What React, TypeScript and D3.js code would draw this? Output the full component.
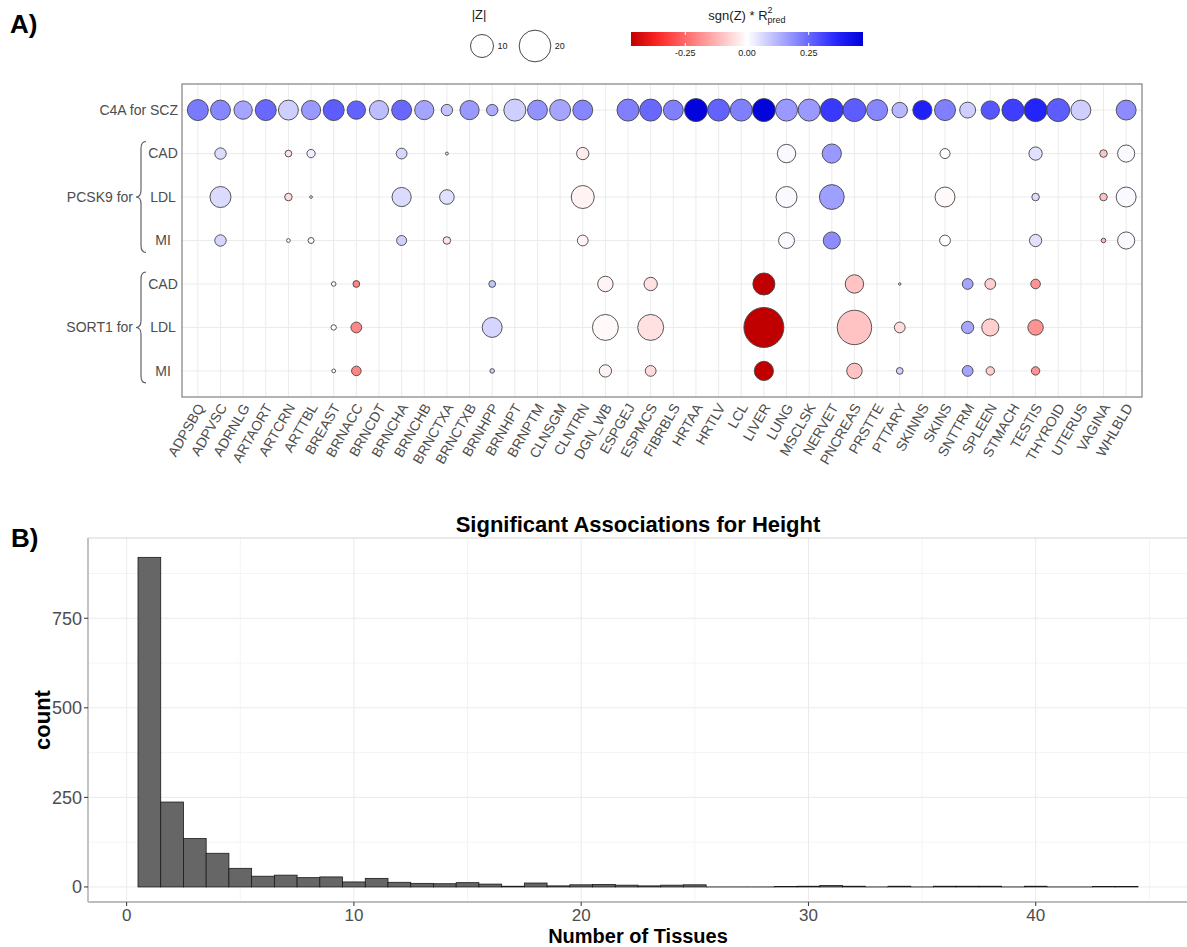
import React from 'react';
import * as d3 from 'd3';

const tissues = [
  'ADPSBQ', 'ADPVSC', 'ADRNLG', 'ARTAORT', 'ARTCRN', 'ARTTBL', 'BREAST', 'BRNACC', 'BRNCDT',
  'BRNCHA', 'BRNCHB', 'BRNCTXA', 'BRNCTXB', 'BRNHPP', 'BRNHPT', 'BRNPTM', 'CLNSGM', 'CLNTRN',
  'DGN_WB', 'ESPGEJ', 'ESPMCS', 'FIBRBLS', 'HRTAA', 'HRTLV', 'LCL', 'LIVER', 'LUNG', 'MSCLSK',
  'NERVET', 'PNCREAS', 'PRSTTE', 'PTTARY', 'SKINNS', 'SKINS', 'SNTTRM', 'SPLEEN', 'STMACH',
  'TESTIS', 'THYROID', 'UTERUS', 'VAGINA', 'WHLBLD',
];

const rowKeys = ['C4A_SCZ', 'PCSK9_CAD', 'PCSK9_LDL', 'PCSK9_MI', 'SORT1_CAD', 'SORT1_LDL', 'SORT1_MI'];
const rowTicks = ['C4A for SCZ', 'CAD', 'LDL', 'MI', 'CAD', 'LDL', 'MI'];
const groupLabels = [
  { label: 'PCSK9 for', from: 'PCSK9_CAD', to: 'PCSK9_MI' },
  { label: 'SORT1 for', from: 'SORT1_CAD', to: 'SORT1_MI' },
];

// [tissue, |Z|, sgn(Z) * R2pred]
type Assoc = [string, number, number];

const c4aScz: Assoc[] = [
  ['ADPSBQ', 8.2, 0.22], ['ADPVSC', 7.3, 0.2], ['ADRNLG', 6.1, 0.15], ['ARTAORT', 8.2, 0.25],
  ['ARTCRN', 7.3, 0.08], ['ARTTBL', 6.7, 0.17], ['BREAST', 8.2, 0.27], ['BRNACC', 6.1, 0.26],
  ['BRNCDT', 6.7, 0.11], ['BRNCHA', 7.3, 0.25], ['BRNCHB', 6.7, 0.15], ['BRNCTXA', 2.0, 0.1],
  ['BRNCTXB', 6.7, 0.17], ['BRNHPP', 2.0, 0.14], ['BRNHPT', 9.1, 0.08], ['BRNPTM', 7.3, 0.18],
  ['CLNSGM', 8.2, 0.15], ['CLNTRN', 7.3, 0.2], ['ESPGEJ', 9.1, 0.21], ['ESPMCS', 9.1, 0.25],
  ['FIBRBLS', 7.3, 0.21], ['HRTAA', 10, 0.46], ['HRTLV', 9.1, 0.26], ['LCL', 9.1, 0.21],
  ['LIVER', 10, 0.46], ['LUNG', 9.1, 0.17], ['MSCLSK', 9.1, 0.17], ['NERVET', 10, 0.33],
  ['PNCREAS', 10, 0.27], ['PRSTTE', 8.2, 0.2], ['PTTARY', 4.1, 0.12], ['SKINNS', 6.7, 0.38],
  ['SKINS', 8.2, 0.21], ['SNTTRM', 4.4, 0.08], ['SPLEEN', 6.1, 0.28], ['STMACH', 9.1, 0.32],
  ['TESTIS', 10, 0.37], ['THYROID', 10, 0.27], ['UTERUS', 7.3, 0.08], ['WHLBLD', 7.3, 0.19],
];

const pcsk9Cad: Assoc[] = [
  ['ADPVSC', 2.0, 0.06], ['ARTCRN', 0.5, -0.05], ['ARTTBL', 0.9, 0.03], ['BRNCHA', 1.75, 0.07],
  ['BRNCTXA', 0.02, -0.05], ['CLNTRN', 2.4, -0.03], ['LUNG', 6.1, 0.01], ['NERVET', 6.7, 0.17],
  ['SKINS', 1.45, 0.0], ['TESTIS', 2.9, 0.05], ['VAGINA', 0.7, -0.1], ['WHLBLD', 5.2, 0.01],
];

const pcsk9Ldl: Assoc[] = [
  ['ADPVSC', 8.2, 0.06], ['ARTCRN', 0.7, -0.06], ['ARTTBL', 0.01, 0.0], ['BRNCHA', 6.7, 0.06],
  ['BRNCTXA', 3.6, 0.05], ['CLNTRN', 10, -0.02], ['LUNG', 8.2, 0.01], ['NERVET', 11.8, 0.16],
  ['SKINS', 7.3, -0.01], ['TESTIS', 0.7, 0.06], ['VAGINA', 0.7, -0.1], ['WHLBLD', 7.3, 0.01],
];

const pcsk9Mi: Assoc[] = [
  ['ADPVSC', 2.0, 0.07], ['ARTCRN', 0.07, 0.0], ['ARTTBL', 0.36, 0.01], ['BRNCHA', 1.45, 0.08],
  ['BRNCTXA', 0.7, -0.05], ['CLNTRN', 1.75, -0.02], ['LUNG', 4.4, 0.01], ['NERVET', 5.2, 0.19],
  ['SKINS', 1.75, 0.0], ['TESTIS', 2.4, 0.05], ['VAGINA', 0.15, -0.12], ['WHLBLD', 5.2, 0.01],
];

const sort1Cad: Assoc[] = [
  ['BREAST', 0.15, 0.0], ['BRNACC', 0.52, -0.2], ['BRNHPP', 0.52, 0.1], ['DGN_WB', 4.1, -0.02],
  ['ESPMCS', 2.9, -0.05], ['LIVER', 9.1, -0.47], ['PNCREAS', 6.1, -0.1], ['PTTARY', 0.005, -0.05],
  ['SNTTRM', 1.75, 0.15], ['SPLEEN', 1.75, -0.08], ['TESTIS', 1.3, -0.18],
];

const sort1Ldl: Assoc[] = [
  ['BREAST', 0.26, 0.0], ['BRNACC', 1.75, -0.2], ['BRNHPP', 7.3, 0.07], ['DGN_WB', 13, -0.01],
  ['ESPMCS', 13, -0.05], ['LIVER', 32.7, -0.47], ['PNCREAS', 23.8, -0.1], ['PTTARY', 1.75, -0.06],
  ['SNTTRM', 2.4, 0.15], ['SPLEEN', 5.2, -0.08], ['TESTIS', 4.1, -0.18],
];

const sort1Mi: Assoc[] = [
  ['BREAST', 0.07, 0.0], ['BRNACC', 1.3, -0.2], ['BRNHPP', 0.15, 0.08], ['DGN_WB', 2.4, -0.02],
  ['ESPMCS', 1.75, -0.06], ['LIVER', 6.7, -0.47], ['PNCREAS', 4.1, -0.1], ['PTTARY', 0.52, 0.08],
  ['SNTTRM', 1.75, 0.15], ['SPLEEN', 0.93, -0.08], ['TESTIS', 0.93, -0.18],
];

const rowData = [c4aScz, pcsk9Cad, pcsk9Ldl, pcsk9Mi, sort1Cad, sort1Ldl, sort1Mi];

const sizeBreaks = [10, 20];
const colorBreaks = [-0.25, 0, 0.25];
const colorStops = [-0.47, -0.36, 0, 0.36, 0.47];
const colorRange = ['#c00000', '#ff2626', '#ffffff', '#2626ff', '#0000d8'];

// histogram: number of tissues vs count of significant associations for height
const tissueBins = d3.range(1, 45);
const heightCounts = [
  920, 237, 135, 94, 52, 30, 33, 26, 28, 14, 24, 13, 10, 9, 12, 8, 2, 11, 3, 6, 7, 5,
  3, 5, 6, 0, 0, 0, 1, 2, 4, 2, 0, 2, 0, 2, 2, 2, 0, 2, 0, 0, 1, 1,
];
const histXTicks = [0, 10, 20, 30, 40];
const histYTicks = [0, 250, 500, 750];

const FONT = '"Liberation Sans", Arial, sans-serif';
const AXIS_GREY = '#4d4d4d';

export default function App() {
  const W = 1187;
  const H = 947;

  // ---- panel A scales
  const A = { left: 182, right: 1142, top: 84, bottom: 397 };
  const x = d3.scalePoint<string>().domain(tissues).range([A.left, A.right]).padding(0.7);
  const y = d3.scalePoint<string>().domain(rowKeys).range([A.top, A.bottom]).padding(0.6);
  const r = d3.scaleSqrt().domain([0, 40]).range([1, 22]);
  const color = d3.scaleLinear<string>()
    .domain(colorStops)
    .range(colorRange)
    .interpolate(d3.interpolateRgb);

  const cb = { x0: 631, x1: 863, y: 32, h: 14 };
  const cbScale = d3.scaleLinear().domain([-0.47, 0.47]).range([cb.x0, cb.x1]);
  const cbStops = d3.range(0, 1.0001, 0.05);

  // ---- panel B scales
  const B = { left: 88, right: 1188, top: 538, bottom: 902 };
  const hx = d3.scaleLinear().domain([-1.7, 46.7]).range([B.left, B.right]);
  const hy = d3.scaleLinear().domain([-42, 974]).range([B.bottom, B.top]);
  const minorX = [5, 15, 25, 35, 45];
  const minorY = [125, 375, 625, 875];

  const brace = (yTop: number, yBot: number, xr: number) => {
    const ym = (yTop + yBot) / 2;
    const xm = xr - 5;
    return `M${xr},${yTop} Q${xm},${yTop} ${xm},${yTop + 7} L${xm},${ym - 7} Q${xm},${ym} ${xm - 5},${ym} `
      + `Q${xm},${ym} ${xm},${ym + 7} L${xm},${yBot - 7} Q${xm},${yBot} ${xr},${yBot}`;
  };

  return (
    <svg width={W} height={H} style={{ position: 'absolute', left: 0, top: 0, background: '#fff' }} fontFamily={FONT}>
      {/* ===== Panel A ===== */}
      <text x={10} y={33} fontSize={26} fontWeight="bold" fill="#000">A)</text>

      {/* size legend */}
      <text x={479} y={19} fontSize={13} textAnchor="middle" fill="#1a1a1a">|Z|</text>
      {sizeBreaks.map((z, i) => {
        const cx = i === 0 ? 482 : 535;
        return (
          <g key={z}>
            <circle cx={cx} cy={46} r={r(z)} fill="none" stroke="#333" strokeWidth={0.9} />
            <text x={cx + r(z) + 4} y={49} fontSize={9} fill="#1a1a1a">{z}</text>
          </g>
        );
      })}

      {/* colour legend */}
      <text x={747} y={20} fontSize={13} textAnchor="middle" fill="#1a1a1a">
        sgn(Z) * R
        <tspan fontSize={9} dy={-7}>2</tspan>
        <tspan fontSize={9} dx={-5} dy={10}>pred</tspan>
      </text>
      <defs>
        <linearGradient id="cbGrad" x1="0" x2="1" y1="0" y2="0">
          {cbStops.map((t) => (
            <stop key={t} offset={`${t * 100}%`} stopColor={color(-0.47 + t * 0.94)} />
          ))}
        </linearGradient>
      </defs>
      <rect x={cb.x0} y={cb.y} width={cb.x1 - cb.x0} height={cb.h} fill="url(#cbGrad)" />
      {colorBreaks.map((v) => (
        <g key={v}>
          <line x1={cbScale(v)} x2={cbScale(v)} y1={cb.y} y2={cb.y + 3} stroke="#fff" strokeWidth={1} />
          <line x1={cbScale(v)} x2={cbScale(v)} y1={cb.y + cb.h - 3} y2={cb.y + cb.h} stroke="#fff" strokeWidth={1} />
          <text x={cbScale(v)} y={cb.y + cb.h + 10} fontSize={9} textAnchor="middle" fill="#1a1a1a">
            {v.toFixed(2)}
          </text>
        </g>
      ))}

      {/* grid */}
      {tissues.map((t) => (
        <line key={t} x1={x(t)} x2={x(t)} y1={A.top} y2={A.bottom} stroke="#ebebeb" strokeWidth={1} />
      ))}
      {rowKeys.map((k) => (
        <line key={k} x1={A.left} x2={A.right} y1={y(k)} y2={y(k)} stroke="#ebebeb" strokeWidth={1} />
      ))}

      {/* bubbles */}
      {rowData.map((rows, i) => (
        <g key={rowKeys[i]}>
          {rows.map(([t, z, v]) => (
            <circle
              key={t}
              cx={x(t)}
              cy={y(rowKeys[i])}
              r={r(z)}
              fill={color(v)}
              stroke="#444"
              strokeWidth={0.9}
            />
          ))}
        </g>
      ))}

      <rect x={A.left} y={A.top} width={A.right - A.left} height={A.bottom - A.top} fill="none" stroke="#666" strokeWidth={1} />

      {/* y labels */}
      {rowKeys.map((k, i) => (
        i === 0
          ? <text key={k} x={178} y={y(k)} dy="0.35em" fontSize={14} textAnchor="end" fill={AXIS_GREY}>{rowTicks[i]}</text>
          : <text key={k} x={163} y={y(k)} dy="0.35em" fontSize={14} textAnchor="middle" fill={AXIS_GREY}>{rowTicks[i]}</text>
      ))}
      {groupLabels.map((g) => {
        const y0 = (y(g.from) as number) - 12;
        const y1 = (y(g.to) as number) + 12;
        return (
          <g key={g.label}>
            <path d={brace(y0, y1, 146)} fill="none" stroke="#555" strokeWidth={1.1} />
            <text x={133} y={(y0 + y1) / 2} dy="0.35em" fontSize={14} textAnchor="end" fill={AXIS_GREY}>{g.label}</text>
          </g>
        );
      })}

      {/* x labels */}
      {tissues.map((t) => (
        <text
          key={t}
          transform={`translate(${(x(t) as number) - 2},${A.bottom + 5}) rotate(-60)`}
          dy="0.75em"
          fontSize={14}
          textAnchor="end"
          fill={AXIS_GREY}
        >
          {t}
        </text>
      ))}

      {/* ===== Panel B ===== */}
      <text x={11} y={547} fontSize={26} fontWeight="bold" fill="#000">B)</text>
      <text x={(B.left + B.right) / 2} y={532} fontSize={22} fontWeight="bold" textAnchor="middle" fill="#000">
        Significant Associations for Height
      </text>

      {minorX.map((v) => (
        <line key={`mx${v}`} x1={hx(v)} x2={hx(v)} y1={B.top} y2={B.bottom} stroke="#f4f4f4" strokeWidth={1} />
      ))}
      {minorY.map((v) => (
        <line key={`my${v}`} x1={B.left} x2={B.right} y1={hy(v)} y2={hy(v)} stroke="#f4f4f4" strokeWidth={1} />
      ))}
      {histXTicks.map((v) => (
        <line key={`gx${v}`} x1={hx(v)} x2={hx(v)} y1={B.top} y2={B.bottom} stroke="#ebebeb" strokeWidth={1} />
      ))}
      {histYTicks.map((v) => (
        <line key={`gy${v}`} x1={B.left} x2={B.right} y1={hy(v)} y2={hy(v)} stroke="#ebebeb" strokeWidth={1} />
      ))}

      {tissueBins.map((b, i) => (
        heightCounts[i] > 0 ? (
          <rect
            key={b}
            x={hx(b - 0.5)}
            y={hy(heightCounts[i])}
            width={hx(b + 0.5) - hx(b - 0.5)}
            height={hy(0) - hy(heightCounts[i])}
            fill="#666666"
            stroke="#1a1a1a"
            strokeWidth={0.8}
          />
        ) : (
          <line key={b} x1={hx(b - 0.5)} x2={hx(b + 0.5)} y1={hy(0)} y2={hy(0)} stroke="#1a1a1a" strokeWidth={0.9} />
        )
      ))}

      <line x1={B.left} x2={B.right} y1={B.top} y2={B.top} stroke="#d6d6d6" strokeWidth={1.2} />
      <line x1={B.left} x2={B.left} y1={B.top} y2={B.bottom} stroke="#bdbdbd" strokeWidth={1.8} />
      <line x1={B.left} x2={B.right} y1={B.bottom} y2={B.bottom} stroke="#bdbdbd" strokeWidth={1.8} />

      {histYTicks.map((v) => (
        <g key={`ty${v}`}>
          <line x1={B.left - 4} x2={B.left} y1={hy(v)} y2={hy(v)} stroke="#333" strokeWidth={1} />
          <text x={B.left - 6} y={hy(v)} dy="0.35em" fontSize={18} textAnchor="end" fill={AXIS_GREY}>{v}</text>
        </g>
      ))}
      {histXTicks.map((v) => (
        <g key={`tx${v}`}>
          <line x1={hx(v)} x2={hx(v)} y1={B.bottom} y2={B.bottom + 4} stroke="#333" strokeWidth={1} />
          <text x={hx(v)} y={B.bottom + 19} fontSize={17} textAnchor="middle" fill={AXIS_GREY}>{v}</text>
        </g>
      ))}

      <text transform={`translate(50,${(B.top + B.bottom) / 2}) rotate(-90)`} fontSize={22} fontWeight="bold" textAnchor="middle" fill="#000">
        count
      </text>
      <text x={(B.left + B.right) / 2} y={943} fontSize={20} fontWeight="bold" textAnchor="middle" fill="#000">
        Number of Tissues
      </text>
    </svg>
  );
}
